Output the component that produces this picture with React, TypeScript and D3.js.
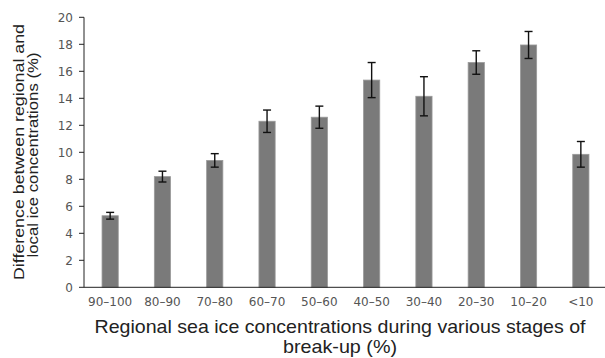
import * as d3 from 'd3'

const CATEGORIES = ['90\u2013100', '80\u201390', '70\u201380', '60\u201370', '50\u201360', '40\u201350', '30\u201340', '20\u201330', '10\u201320', '<10']
const VALUES = [5.3, 8.2, 9.4, 12.3, 12.6, 15.35, 14.15, 16.65, 17.95, 9.85]
const ERRORS = [0.25, 0.4, 0.5, 0.83, 0.82, 1.3, 1.45, 0.87, 1.0, 0.95]
const Y_TICKS = [0, 2, 4, 6, 8, 10, 12, 14, 16, 18, 20]

const W = 605
const H = 358
const left = 84
const right = 607
const top = 17.3
const bottom = 287.3

export default function App() {
  const x = d3.scaleBand<string>()
    .domain(CATEGORIES)
    .range([left, right])
    .paddingInner(0.69)
    .paddingOuter(0.345)

  const y = d3.scaleLinear().domain([0, 20]).range([bottom, top])

  const tickFont = 'DejaVu Sans, Verdana, sans-serif'
  const titleFont = 'Liberation Sans, Arial, sans-serif'

  return (
    <svg width={W} height={H} style={{ position: 'absolute', left: 0, top: 0, background: '#fff' }}>
      {/* Bars */}
      {CATEGORIES.map((c, i) => (
        <rect
          key={c}
          x={x(c)!}
          y={y(VALUES[i])}
          width={x.bandwidth()}
          height={bottom - y(VALUES[i])}
          fill="#7a7a7a"
          stroke="#9a9a9a"
          strokeWidth={0.8}
        />
      ))}

      {/* Error bars */}
      {CATEGORIES.map((c, i) => {
        const cx = x(c)! + x.bandwidth() / 2
        const hi = y(VALUES[i] + ERRORS[i])
        const lo = y(VALUES[i] - ERRORS[i])
        return (
          <g key={c} stroke="#111" strokeWidth={1.4}>
            <line x1={cx} x2={cx} y1={hi} y2={lo} />
            <line x1={cx - 4} x2={cx + 4} y1={hi} y2={hi} />
            <line x1={cx - 4} x2={cx + 4} y1={lo} y2={lo} />
          </g>
        )
      })}

      {/* Y axis */}
      <line x1={left} x2={left} y1={top} y2={bottom} stroke="#222" strokeWidth={1} />
      {Y_TICKS.map(t => (
        <g key={t}>
          <line x1={left - 5} x2={left} y1={y(t)} y2={y(t)} stroke="#222" strokeWidth={1} />
          <text
            x={left - 11}
            y={y(t)}
            dy="0.36em"
            textAnchor="end"
            fontFamily={tickFont}
            fontSize={12}
            fill="#555"
          >
            {t}
          </text>
        </g>
      ))}

      {/* X axis */}
      <line x1={left} x2={W} y1={bottom} y2={bottom} stroke="#222" strokeWidth={1} />
      {CATEGORIES.map(c => (
        <text
          key={c}
          x={x(c)! + x.bandwidth() / 2}
          y={306}
          textAnchor="middle"
          fontFamily={tickFont}
          fontSize={12}
          fill="#555"
        >
          {c}
        </text>
      ))}

      {/* X title */}
      <text x={340} y={333} textAnchor="middle" fontFamily={titleFont} fontSize={18.5} fill="#222"
        textLength={491} lengthAdjust="spacingAndGlyphs">
        Regional sea ice concentrations during various stages of
      </text>
      <text x={340} y={353} textAnchor="middle" fontFamily={titleFont} fontSize={18.5} fill="#222"
        textLength={114} lengthAdjust="spacingAndGlyphs">
        break-up (%)
      </text>

      {/* Y title */}
      <text
        transform="translate(24,152) rotate(-90)"
        textAnchor="middle"
        fontFamily={titleFont}
        fontSize={15}
        fill="#222"
        textLength={256}
        lengthAdjust="spacingAndGlyphs"
      >
        Difference between regional and
      </text>
      <text
        transform="translate(38,155) rotate(-90)"
        textAnchor="middle"
        fontFamily={titleFont}
        fontSize={15}
        fill="#222"
        textLength={205}
        lengthAdjust="spacingAndGlyphs"
      >
        local ice concentrations (%)
      </text>
    </svg>
  )
}
